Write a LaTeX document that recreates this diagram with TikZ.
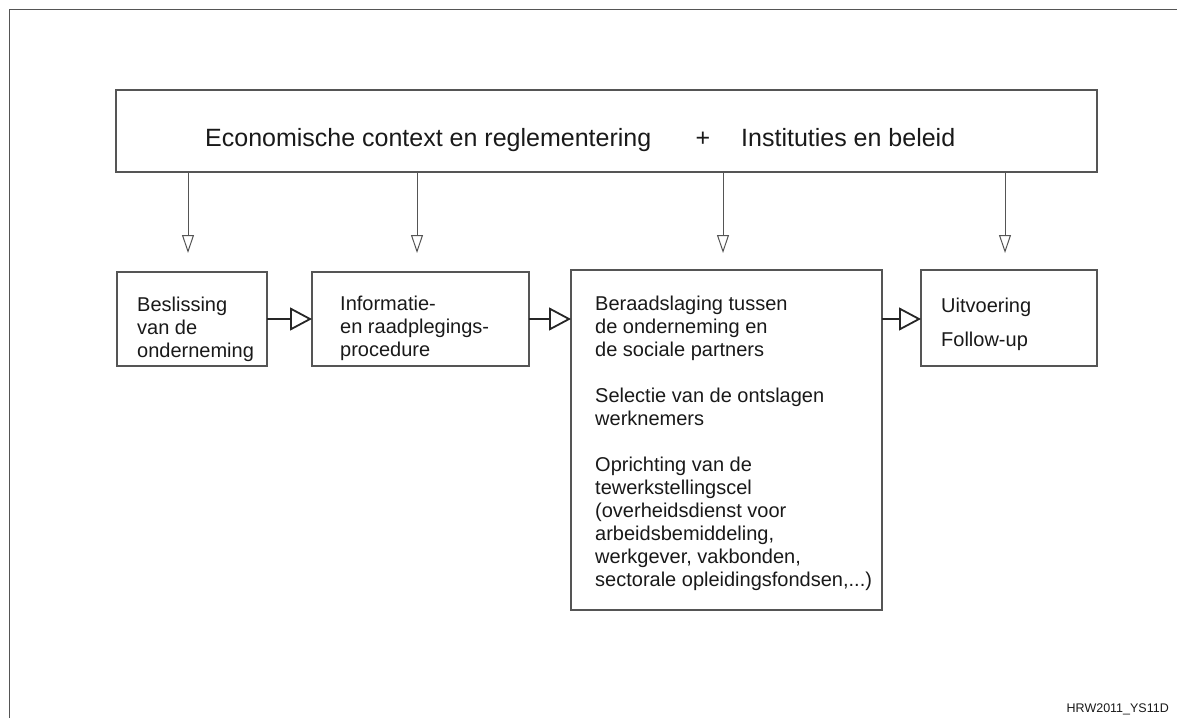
\documentclass[tikz,border=0pt]{standalone}
\usepackage{fontspec}
\setmainfont{Liberation Sans}
\usetikzlibrary{arrows.meta}
\definecolor{boxgray}{RGB}{85,85,85}
\definecolor{txt}{RGB}{25,25,25}
\begin{document}
\begin{tikzpicture}[x=1pt,y=-1pt,
  box/.style={draw=boxgray, line width=1.2pt, inner sep=0pt, outer sep=0pt, anchor=north west},
  boxtext/.style={anchor=base west, inner sep=0pt, align=left, text=txt, font=\fontsize{20}{23}\selectfont},
  toptext/.style={anchor=base west, inner sep=0pt, text=txt, font=\fontsize{25}{30}\selectfont},
  downarrow/.style={draw=boxgray, line width=1pt, -{Triangle[open, length=18pt, width=12pt, line width=1pt]}},
  flowarrow/.style={draw=black!85, line width=2pt, -{Triangle[open, length=22pt, width=23pt, line width=1.8pt]}}
]
\useasboundingbox (0,0) rectangle (1177,718);
% outer frame (left and top edges)
\draw[boxgray, line width=1.2pt] (9.5,718) -- (9.5,9.5) -- (1177,9.5);

% boxes
\node[box, minimum width=981pt, minimum height=82pt] (top) at (116,90) {};
\node[box, minimum width=150pt, minimum height=94pt] (b1) at (117,272) {};
\node[box, minimum width=217pt, minimum height=94pt] (b2) at (312,272) {};
\node[box, minimum width=311pt, minimum height=340pt] (b3) at (571,270) {};
\node[box, minimum width=176pt, minimum height=96pt] (b4) at (921,270) {};

% top text
\node[toptext] (t1) at (205,146) {Economische context en reglementering};
\node[toptext, anchor=base] (tplus) at (703,146) {+};
\node[toptext] (t2) at (741,146) {Instituties en beleid};

% box texts (anchored at the baseline of their last line)
\node[boxtext] (x1) at (137,357) {Beslissing\\van de\\onderneming};
\node[boxtext] (x2) at (340,356) {Informatie-\\en raadplegings-\\procedure};
\node[boxtext] (x3) at (595,586) {Beraadslaging tussen\\de onderneming en\\de sociale partners\\[23pt]Selectie van de ontslagen\\werknemers\\[23pt]Oprichting van de\\tewerkstellingscel\\(overheidsdienst voor\\arbeidsbemiddeling,\\werkgever, vakbonden,\\sectorale opleidingsfondsen,...)};
\node[boxtext] (x4) at (941,346) {Uitvoering\\[11pt]Follow-up};

% watermark
\node[anchor=base east, inner sep=0pt, text=txt, font=\fontsize{12.5}{15}\selectfont] (wm) at (1169,712) {HRW2011\_YS11D};

% down arrow end points
\coordinate (d1) at (188,253);
\coordinate (d2) at (417,253);
\coordinate (d3) at (723,253);
\coordinate (d4) at (1005,253);
\draw[downarrow] (top.south -| d1) -- (d1);
\draw[downarrow] (top.south -| d2) -- (d2);
\draw[downarrow] (top.south -| d3) -- (d3);
\draw[downarrow] (top.south -| d4) -- (d4);

% flow arrows
\draw[flowarrow] (b1.east) -- (b1.east -| b2.west);
\draw[flowarrow] (b1.east -| b2.east) -- (b1.east -| b3.west);
\draw[flowarrow] (b1.east -| b3.east) -- (b1.east -| b4.west);
\end{tikzpicture}
\end{document}
